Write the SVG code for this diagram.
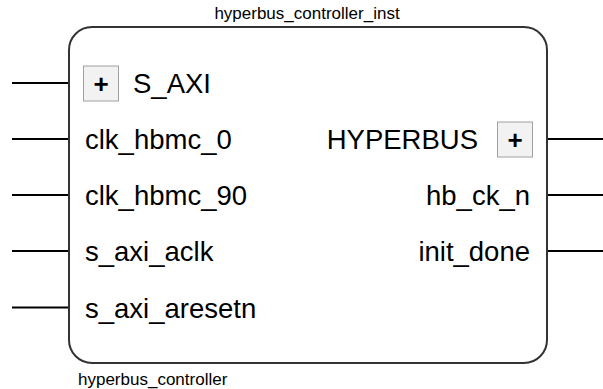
<svg xmlns="http://www.w3.org/2000/svg" width="603" height="389" viewBox="0 0 603 389">
<style>
.pin{stroke:#000;stroke-width:2;fill:none}
.lbl{font-family:"Liberation Sans",Arial,sans-serif;font-size:27.5px;fill:#000}
.cap{font-family:"Liberation Sans",Arial,sans-serif;font-size:17px;fill:#000}
.btn{fill:#f2f2f2;stroke:#a0a0a0;stroke-width:1}
.plus{font-family:"Liberation Sans",Arial,sans-serif;font-size:26px;font-weight:bold;fill:#000;text-anchor:middle}
</style>
<rect width="603" height="389" fill="#fff"/>
<g id="connectors">
<line class="pin" x1="12" y1="83" x2="69" y2="83"/>
<line class="pin" x1="12" y1="139" x2="69" y2="139"/>
<line class="pin" x1="12" y1="195" x2="69" y2="195"/>
<line class="pin" x1="12" y1="251" x2="69" y2="251"/>
<line class="pin" x1="12" y1="307.5" x2="69" y2="307.5"/>
<line class="pin" x1="547" y1="139" x2="603" y2="139"/>
<line class="pin" x1="547" y1="195" x2="603" y2="195"/>
<line class="pin" x1="547" y1="251" x2="603" y2="251"/>
</g>
<g id="hyperbus_controller_inst">
<rect x="69" y="27" width="478" height="336" rx="23" ry="23" fill="#fff" stroke="#333" stroke-width="2"/>
<text class="cap" x="307" y="19" text-anchor="middle">hyperbus_controller_inst</text>
<text class="cap" x="78" y="385">hyperbus_controller</text>
<g id="S_AXI">
<rect class="btn" x="83.5" y="66" width="35" height="35"/>
<text class="plus" x="101" y="93">+</text>
<text class="lbl" x="133" y="93">S_AXI</text>
</g>
<text class="lbl" x="85" y="149">clk_hbmc_0</text>
<text class="lbl" x="85" y="205">clk_hbmc_90</text>
<text class="lbl" x="85" y="261">s_axi_aclk</text>
<text class="lbl" x="85" y="317.5">s_axi_aresetn</text>
<g id="HYPERBUS">
<rect class="btn" x="497.5" y="122" width="35" height="35"/>
<text class="plus" x="515" y="149">+</text>
<text class="lbl" x="478" y="149" text-anchor="end">HYPERBUS</text>
</g>
<text class="lbl" x="530" y="205" text-anchor="end">hb_ck_n</text>
<text class="lbl" x="530" y="261" text-anchor="end">init_done</text>
</g>
</svg>
